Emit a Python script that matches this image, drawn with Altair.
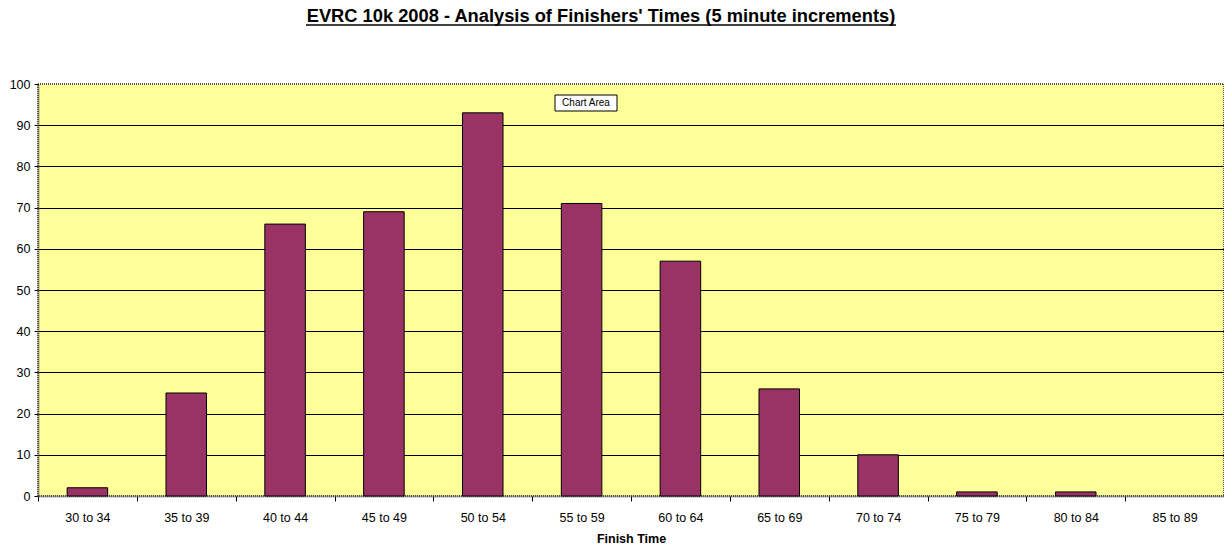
import altair as alt
import pandas as pd

categories = ["30 to 34", "35 to 39", "40 to 44", "45 to 49", "50 to 54", "55 to 59",
              "60 to 64", "65 to 69", "70 to 74", "75 to 79", "80 to 84", "85 to 89"]
finishers = [2, 25, 66, 69, 93, 71, 57, 26, 10, 1, 1, 0]
y_ticks = [0, 10, 20, 30, 40, 50, 60, 70, 80, 90, 100]

title_text = ["EVRC 10k 2008 - Analysis of Finishers' Times (5 minute increments)"]
x_title = "Finish Time"
tooltip_text = ["Chart Area"]

FONT = "Liberation Sans"
df = pd.DataFrame({"cat": categories, "n": finishers})

bars = alt.Chart(df).mark_bar(
    color="#993366", stroke="black", strokeWidth=1, width=alt.RelativeBandSize(0.41)
).encode(
    x=alt.X("cat:N", sort=categories, title=x_title,
            scale=alt.Scale(paddingInner=0, paddingOuter=0),
            axis=alt.Axis(labelAngle=0, tickBand="extent", tickSize=5, tickColor="black",
                          labelFont=FONT, labelFontSize=12.5, labelColor="black", labelPadding=10,
                          titleFont=FONT, titleFontSize=12.5, titleFontWeight="bold",
                          titleColor="black", titlePadding=9,
                          domainColor="#555555", domainWidth=2, domainDash=[1, 1], grid=False)),
    y=alt.Y("n:Q", title=None,
            scale=alt.Scale(domain=[0, 100], nice=False),
            axis=alt.Axis(values=y_ticks, tickSize=4, tickColor="black",
                          labelFont=FONT, labelFontSize=12.5, labelColor="black", labelPadding=4,
                          domainColor="#555555", domainWidth=2, domainDash=[1, 1],
                          grid=True, gridColor="black", gridWidth=1,
                          gridOpacity={"condition": {"test": "datum.value == 0 || datum.value == 100", "value": 0}, "value": 1})),
    strokeOpacity=alt.condition("datum.n > 0", alt.value(1), alt.value(0)),
)

title_df = pd.DataFrame({"t": title_text})
title = alt.Chart(title_df).mark_text(font=FONT, fontSize=18.3, fontWeight="bold", color="black",
                                      align="center", baseline="alphabetic").encode(
    x=alt.value(563), y=alt.value(-62), text="t:N"
)
underline = alt.Chart(title_df).mark_rule(color="black", strokeWidth=1.5).encode(
    x=alt.value(268), x2=alt.value(858), y=alt.value(-59)
)

tip_df = pd.DataFrame({"t": tooltip_text})
tip_box = alt.Chart(tip_df).mark_rect(fill="white", stroke="black", strokeWidth=1).encode(
    x=alt.value(517), x2=alt.value(579), y=alt.value(11), y2=alt.value(27)
)
tip_text = alt.Chart(tip_df).mark_text(font=FONT, fontSize=10, color="black", align="center", baseline="middle").encode(
    x=alt.value(548), y=alt.value(19), text="t:N"
)

chart = alt.layer(bars, title, underline, tip_box, tip_text).properties(
    width=1186, height=412,
    autosize=alt.AutoSizeParams(type="none"),
    padding={"left": 30, "top": 76, "right": 0, "bottom": 55},
    background="white",
).configure_view(
    fill="#FFFF99", stroke="#555555", strokeWidth=2, strokeDash=[1, 1]
)

chart.save("out.html", embed_options={"renderer": "svg", "actions": False})
